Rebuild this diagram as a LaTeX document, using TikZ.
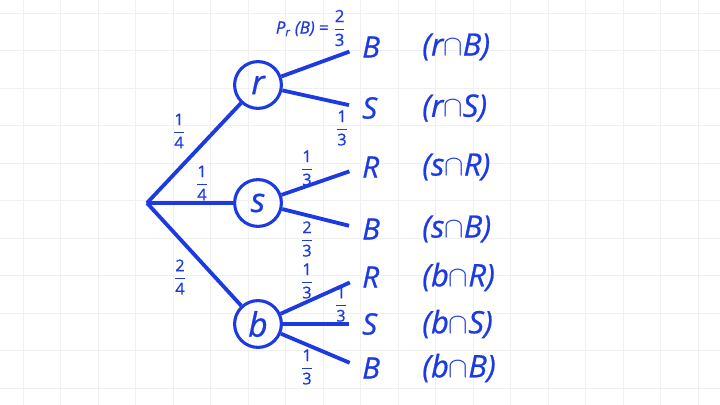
\documentclass[tikz,border=0pt]{standalone}
\usepackage{amsmath}
\usepackage{fontspec}
\setmainfont{Open Sans}[FakeBold=0.7]
\definecolor{treeblue}{RGB}{28,58,226}
\newcommand{\fr}[2]{$\genfrac{}{}{0.9pt}{0}{\text{#1}}{\text{#2}}$}
\tikzset{
	event/.style={circle, draw, line width=2.2pt, minimum size=1.17cm, inner sep=0pt, font=\fontsize{24}{28}\selectfont\itshape},
	leaf/.style={anchor=west, inner sep=0pt, font=\fontsize{21}{25}\selectfont\itshape},
	joint/.style={anchor=west, inner sep=0pt, font=\fontsize{22}{26}\selectfont\itshape},
	prob/.style={inner sep=0pt, font=\fontsize{11.5}{13}\selectfont},
	branch/.style={line width=2.7pt},
	gridline/.style={gray!12, line width=0.6pt}
}

\begin{document}
\begin{tikzpicture}[color=treeblue]
		\useasboundingbox[fill=white](0, 0) rectangle (18, 10.125);
		\foreach \k in {0,...,18} \draw[gridline]({0.575+0.9375*\k}, 0)--({0.575+0.9375*\k}, 10.125);
		\foreach \k in {0,...,10} \draw[gridline](0, {9.8-0.9375*\k})--(18, {9.8-0.9375*\k});
		% first draw
		\coordinate (root) at (3.675, 5.05);
		\node[event] (r) at (6.45, 8.0) {r};
		\node[event] (s) at (6.45, 5.05) {s};
		\node[event] (b) at (6.45, 2.025) {b};
		\draw[branch](root)--(r);
		\draw[branch](root)--(s);
		\draw[branch](root)--(b);
		\node[prob] (pr) at (4.475, 6.85) {\fr{1}{4}};
		\node[prob] (ps) at (5.05, 5.55) {\fr{1}{4}};
		\node[prob] (pb) at (4.5, 3.2) {\fr{2}{4}};
		% second draw
		\node[leaf] (rB) at (9.05, 8.95) {B};
		\node[leaf] (rS) at (9.05, 7.425) {S};
		\node[leaf] (sR) at (9.05, 5.95) {R};
		\node[leaf] (sB) at (9.05, 4.4) {B};
		\node[leaf] (bR) at (9.05, 3.2) {R};
		\node[leaf] (bS) at (9.05, 2.025) {S};
		\node[leaf] (bB) at (9.05, 0.925) {B};
		\draw[branch, shorten >=9.5pt](r)--(rB.west);
		\draw[branch, shorten >=9.5pt](r)--(rS.west);
		\draw[branch, shorten >=9.5pt](s)--(sR.west);
		\draw[branch, shorten >=9.5pt](s)--(sB.west);
		\draw[branch, shorten >=9.5pt](b)--(bR.west);
		\draw[branch, shorten >=9.5pt](b)--(bS.west);
		\draw[branch, shorten >=9.5pt](b)--(bB.west);
		\node[prob, font=\fontsize{12}{14}\selectfont] (prB) at (7.775, 9.425) {\textit{P\textsubscript{r} (B)} = \fr{2}{3}};
		\node[prob] (prS) at (8.55, 6.925) {\fr{1}{3}};
		\node[prob] (psR) at (7.675, 5.925) {\fr{1}{3}};
		\node[prob] (psB) at (7.675, 4.15) {\fr{2}{3}};
		\node[prob] (pbR) at (7.675, 3.1) {\fr{1}{3}};
		\node[prob] (pbS) at (8.525, 2.52) {\fr{1}{3}};
		\node[prob] (pbB) at (7.675, 0.95) {\fr{1}{3}};
		% joint events
		\node[joint] (jrB) at (10.55, 8.95) {(r$\cap$B)};
		\node[joint] (jrS) at (10.55, 7.425) {(r$\cap$S)};
		\node[joint] (jsR) at (10.55, 5.95) {(s$\cap$R)};
		\node[joint] (jsB) at (10.55, 4.4) {(s$\cap$B)};
		\node[joint] (jbR) at (10.55, 3.2) {(b$\cap$R)};
		\node[joint] (jbS) at (10.55, 2.025) {(b$\cap$S)};
		\node[joint] (jbB) at (10.55, 0.925) {(b$\cap$B)};
	\end{tikzpicture}
\end{document}
